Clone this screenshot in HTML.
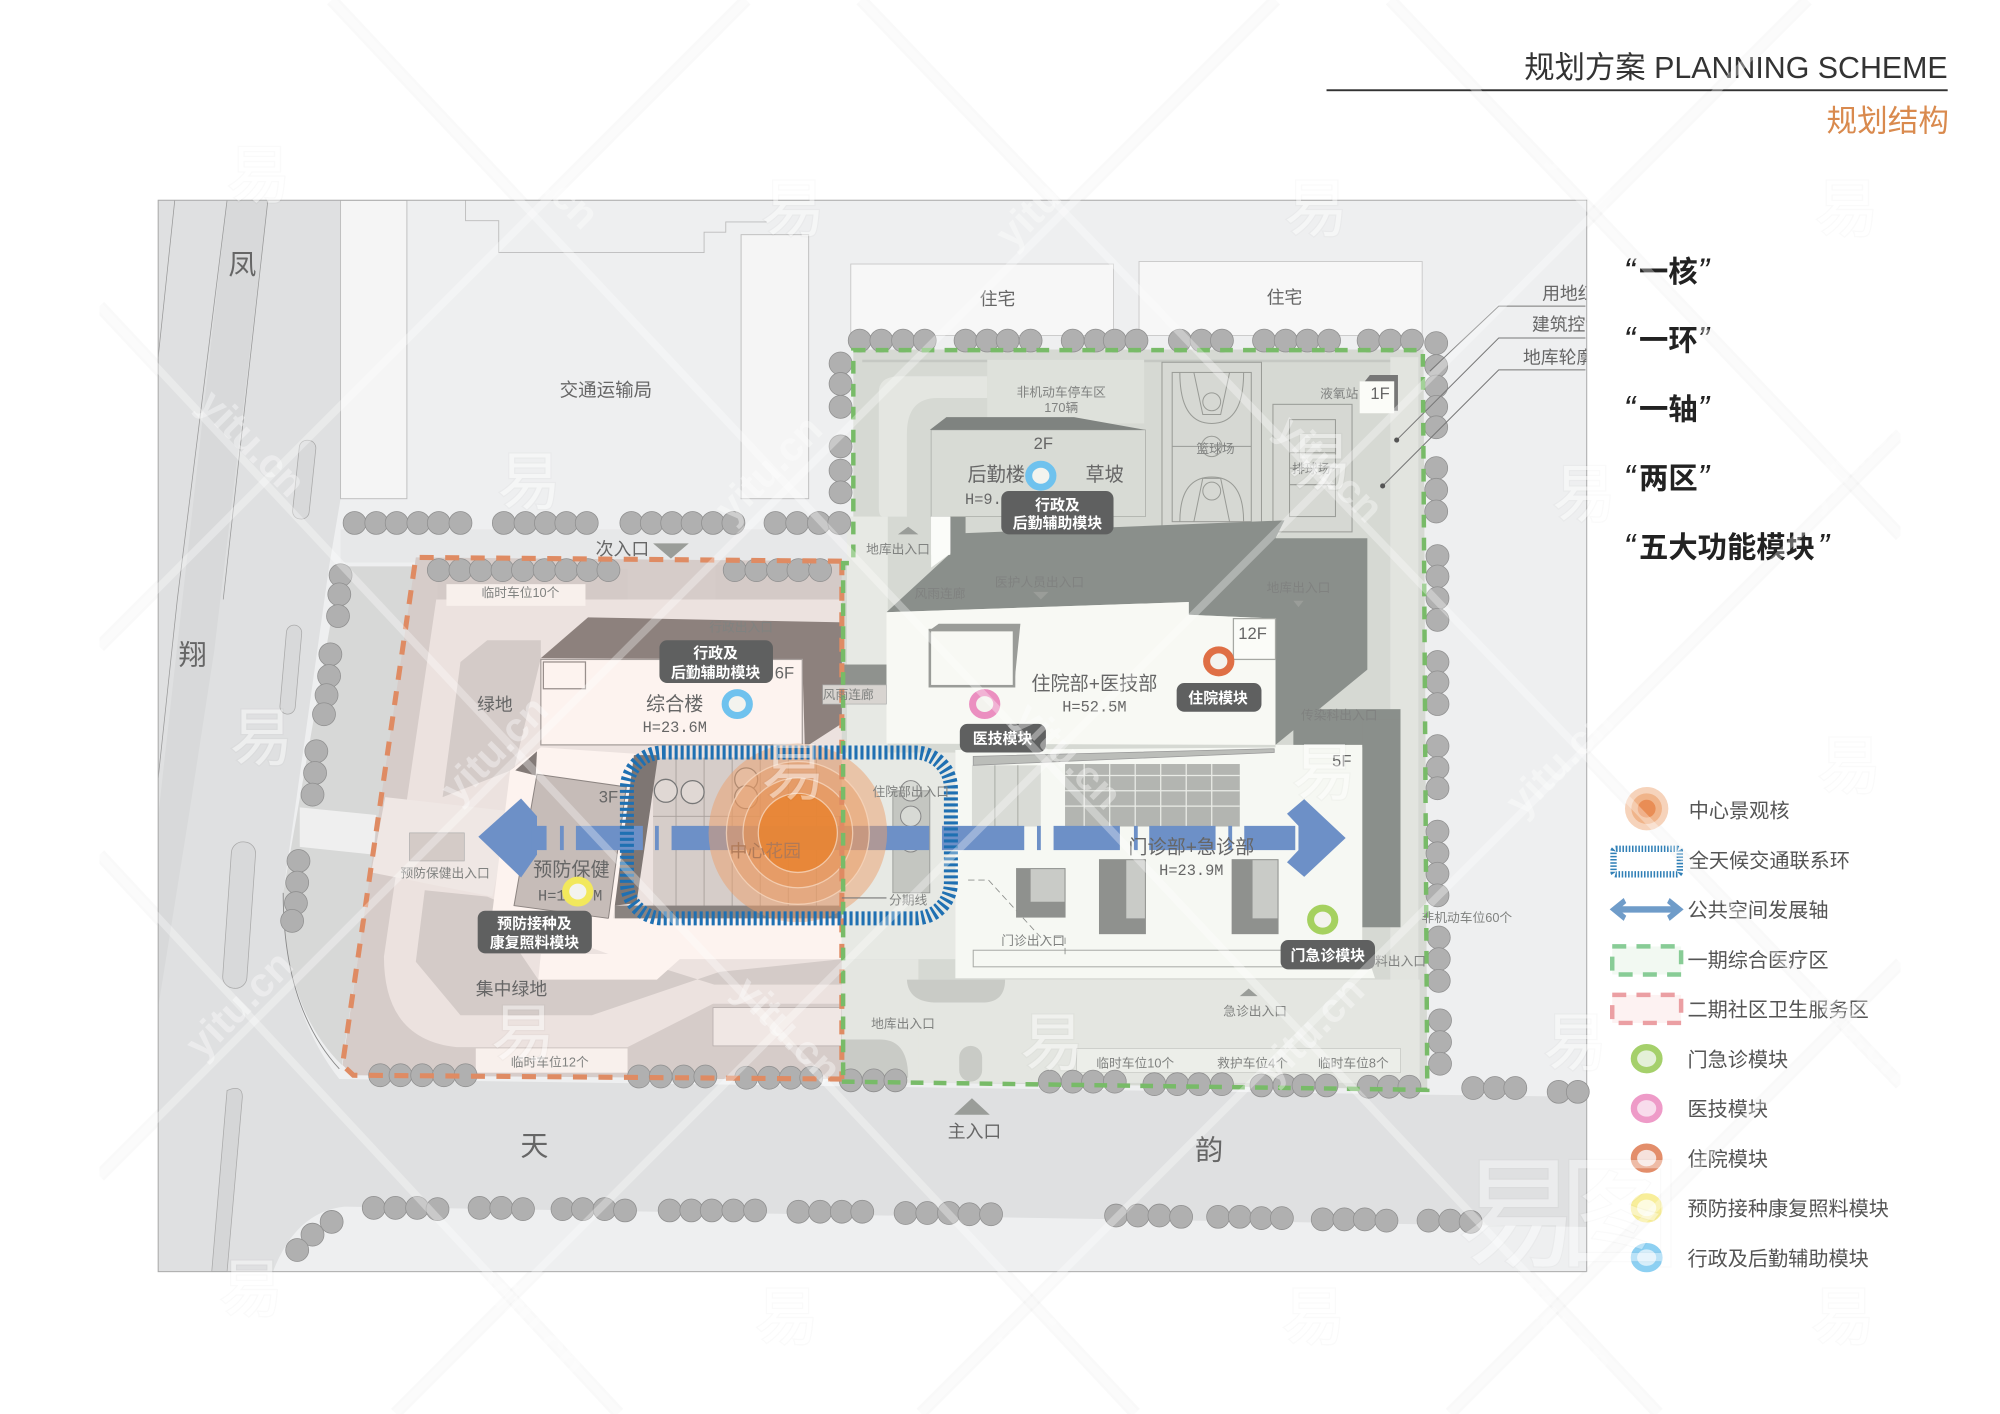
<!DOCTYPE html>
<html><head><meta charset="utf-8"><title>规划结构</title>
<style>
html,body{margin:0;padding:0;background:#fff;width:2000px;height:1414px;overflow:hidden}
svg{display:block}
text{font-family:"Liberation Sans","Noto Sans CJK SC",sans-serif;fill:#666}
.s{font-size:10px;fill:#808280;text-anchor:middle}
.m{font-size:15px;text-anchor:middle}
.h{font-size:12px;text-anchor:middle;font-family:"Liberation Mono","Noto Sans CJK SC",monospace}
.f{font-size:13px;text-anchor:middle}
.l{font-size:11.7px;font-weight:bold;fill:#fff;text-anchor:middle}
.g{font-size:15.8px;fill:#555}
.b{font-size:23px;font-weight:bold;fill:#222}
.q{font-style:italic;font-weight:normal;font-size:27px}
.w{font-size:50px;fill:#fff;text-anchor:middle;opacity:.45;stroke:#000;stroke-opacity:.05;stroke-width:2;paint-order:stroke}
.y{font-size:32px;font-weight:bold;fill:#fff;text-anchor:middle;opacity:.38}
</style></head><body>
<svg width="2000" height="1414" viewBox="0 0 1568 1108.6" xmlns="http://www.w3.org/2000/svg">
<defs><clipPath id="site"><rect x="124" y="157" width="1120" height="840"/></clipPath>
<clipPath id="wm"><rect x="78" y="0" width="1412" height="1109"/></clipPath></defs>
<rect width="1568" height="1109" fill="#fff"/>

<!-- faint watermark halo on white -->
<g clip-path="url(#wm)" stroke="#000" stroke-opacity=".025" stroke-width="10" fill="none">
<path d="M260 0L1300 1108M675 0L1490 850M1090 0L1490 420M78 240L890 1108M78 670L485 1108"/>
<path d="M585 0L78 507M1000 0L78 922M1417 0L310 1108M1490 340L722 1108M1490 755L1137 1108"/>
</g>

<!-- site base -->
<g clip-path="url(#site)">
<rect x="124" y="157" width="1120" height="840" fill="#eeeff0"/>
<path d="M124 157H267V391L258 444L222 700Q222 790 266 846L1244 860V962L270 946Q232 950 214 997H124Z" fill="#dfe0e1"/>
<rect x="267" y="415" width="400" height="26" fill="#e7e8e9"/>
<path d="M178 157H210L168 510L148 640L124 790V640Z" fill="#d8d9da"/>
<path d="M137 157L124 280M178 157L139 470L124 610M210 157L175 470" fill="none" stroke="#999" stroke-width=".6"/>
<rect x="232" y="345" width="13" height="62" rx="6" fill="#d8d9da" stroke="#aaa" stroke-width=".6" transform="rotate(6 238 376)"/>
<rect x="222" y="490" width="12" height="70" rx="6" fill="#d8d9da" stroke="#aaa" stroke-width=".6" transform="rotate(5 228 525)"/>
<rect x="178" y="660" width="19" height="115" rx="9" fill="#d8d9da" stroke="#aaa" stroke-width=".6" transform="rotate(4 188 717)"/>
<path d="M178 855Q190 850 190 860L178 997H166Z" fill="#d5d6d7" stroke="#aaa" stroke-width=".6"/>
<path d="M267 444H327L268 835Q222 790 222 700Z" fill="#d7d8d7"/>
<path d="M222 700Q222 790 266 838" fill="none" stroke="#888" stroke-width=".7"/>
<rect x="267" y="157" width="52" height="234" fill="#f5f5f5" stroke="#bbb" stroke-width=".7"/>
<rect x="581" y="184" width="53" height="207" fill="#f5f5f5" stroke="#bbb" stroke-width=".7"/>
<path d="M365 157V173H391V198H552V182H569V174H601" fill="none" stroke="#bbb" stroke-width=".7"/>
<rect x="667" y="207" width="206" height="56" fill="#f7f7f7" stroke="#c8c8c8" stroke-width=".7"/>
<rect x="893" y="205" width="222" height="58" fill="#f7f7f7" stroke="#c8c8c8" stroke-width=".7"/>
<text x="1209" y="235" style="font-size:14px">用地红线</text>
<text x="1201" y="259" style="font-size:14px">建筑控制线</text>
<text x="1194" y="285" style="font-size:14px">地库轮廓线</text>
</g>
<rect x="124" y="157" width="1120" height="840" fill="none" stroke="#aaa" stroke-width=".8"/>

<!-- phase 2 base -->
<path d="M326 437L660 440V846L277 843L268.500 835Z" fill="#d6ccc9"/>
<path d="M342 470H660V821H358Q301 815 301 750Z" fill="#ece2df"/>
<path d="M361 519L382 502H424V516L403 603L347 625ZM333 698L326 754L361 796H464L564 762L660 752V772H560L519 759L422 768L403 740V712L382 703Z" fill="#d4cbc8"/>
<path d="M492 821L559 787H660V846H492Z" fill="#d6ccc9"/><rect x="559" y="790" width="101" height="30" fill="#f0e7e4" stroke="#b5acaa" stroke-width=".6"/>
<path d="M343 446H492V470H343ZM561 443H660V470H561Z" fill="#d4cac7"/>
<rect x="350" y="458" width="109" height="17" fill="#f8f0ec"/><rect x="373" y="822" width="119" height="19" fill="#f8f0ec"/>
<path d="M235 633L295 639L293 670L235 664Z" fill="#efefef"/>
<path d="M302 625L400 636L386 703L291 684Z" fill="#efe7e4"/>
<rect x="321" y="653" width="43" height="22" fill="#d4cbc7" stroke="#aaa" stroke-width=".5"/>
<path d="M424 516L461 484L662 488V566L631 586L629 517Z" fill="#8d817d"/>
<rect x="424" y="517" width="205" height="67" fill="#fdf3ef" stroke="#a79f9c" stroke-width="1"/>
<rect x="426" y="519" width="33" height="21" fill="#fdf3ef" stroke="#998f8c" stroke-width="1"/>
<path d="M400 604L424 586L498 591L477 748L386 715Z" fill="#fdf3ef"/>
<path d="M421 607L491 617L477 720L403 710Z" fill="#c6bcb8" stroke="#8d8582" stroke-width=".8"/>
<path d="M404 604L421 589L420 608Z" fill="#837a77"/>
<path d="M477 720H660V752H533L515 768H422L424 748H477Z" fill="#fdf3ef"/>
<rect x="512" y="594" width="148" height="118" fill="#d6cdc9"/>
<path d="M530 594V712M552 594V712M574 594V712M596 594V712M618 594V712M640 594V712M512 640H660" fill="none" stroke="#a8a09c" stroke-width=".7"/>
<path d="M497 592H516L499 708L482 710Z" fill="#7e7673"/>
<rect x="482" y="710" width="178" height="10" fill="#8a8380"/>
<g fill="#e0d8d4" stroke="#777" stroke-width="1"><circle cx="522" cy="620" r="9"/><circle cx="543" cy="621" r="9"/><circle cx="585" cy="611" r="9"/><circle cx="585" cy="625" r="9"/></g>

<!-- phase 1 base -->
<path d="M669 274H1116L1119 854L660 848V442H669Z" fill="#d6d9d3"/>
<rect x="676" y="282" width="435" height="2" fill="#c5c8c3"/>
<path d="M689 309Q688 295 706 295H774V312H735Q711 312 711 340V405H692Q689 405 689 398Z" fill="#e4e6e1"/>
<rect x="1090" y="280" width="22" height="490" fill="#e2e4df"/>
<rect x="774" y="282" width="123" height="50" fill="#dee1db"/>
<rect x="664" y="405" width="32" height="185" fill="#e7e9e4"/>
<rect x="660" y="590" width="89" height="162" fill="#e7e9e4"/>
<rect x="711" y="768" width="402" height="81" fill="#e4e6e1"/>
<rect x="660" y="752" width="60" height="95" fill="#e4e6e1"/>
<rect x="844" y="822" width="254" height="19" fill="#eceee9" stroke="#c0c2bd" stroke-width=".5"/>
<!-- courts -->
<g fill="none" stroke="#999b96" stroke-width=".8">
<rect x="911" y="284" width="78" height="131" fill="#d6d8d3"/><rect x="919" y="292" width="62" height="117"/>
<path d="M919 350H981M936 292L943 325H957L964 292M936 409L943 375H957L964 409"/><circle cx="950" cy="350" r="8"/><circle cx="950" cy="315" r="7"/><circle cx="950" cy="385" r="7"/>
<path d="M925 292Q925 332 950 332T975 292M925 409Q925 374 950 374T975 409"/>
<rect x="998" y="317" width="62" height="100" fill="#d6d8d3"/><rect x="1011" y="329" width="36" height="76"/><path d="M1011 367H1047M1011 355H1047M1011 380H1047"/></g>
<!-- dark shadows -->
<path d="M695 480L745 434V405H757V418L1007 408L1000 422H1072V525L1000 584V485L932 482V472Z" fill="#8a8f8b"/>
<rect x="1014" y="556" width="84" height="30" fill="#8a8f8b"/>
<rect x="1068" y="564" width="30" height="163" fill="#8a8f8b"/>
<path d="M730 337H898V405H730Z" fill="#d8dbd5" stroke="#a9aca7" stroke-width=".6"/>
<path d="M729 337L742 327H842L898 337Z" fill="#7f8380"/>
<path d="M730 405V445L745 434V405Z" fill="#fbfcf9"/>
<rect x="730" y="405" width="15" height="30" fill="#fbfcf9"/>
<!-- inpatient building -->
<path d="M695 480L932 472V482L1000 485V584L695 583Z" fill="#f8f9f4"/>
<path d="M729 494L736 489H800L795 538V494H729Z" fill="#9a9c98"/>
<rect x="729" y="494" width="66" height="44" fill="#f8f9f4" stroke="#9a9c98" stroke-width="2"/>
<rect x="967" y="485" width="33" height="32" fill="#fbfcf8" stroke="#a6a8a3" stroke-width="1"/>
<path d="M1070 299L1074 294H1096V322H1093V299Z" fill="#777"/><rect x="1066" y="299" width="27" height="25" fill="#fbfcf8"/>
<!-- corridor -->
<rect x="660" y="521" width="35" height="16" fill="#8f928e"/><rect x="645" y="537" width="50" height="15" fill="#d8d4d0" stroke="#aaa" stroke-width=".5"/>
<!-- outpatient -->
<path d="M749 588L1000 586V584H1068V737L1078 767H749Z" fill="#f6f8f3"/>
<rect x="762" y="600" width="54" height="48" fill="#d9dbd6"/>
<path d="M780 600V648M798 600V648" stroke="#a9aba6" stroke-width=".8"/>
<rect x="835" y="599" width="137" height="49" fill="#b3b5b1"/>
<path d="M835 608H972M835 620H972M835 632H972M850 599V648M870 599V648M890 599V648M910 599V648M930 599V648M950 599V648" stroke="#e9ebe6" stroke-width="1" fill="none"/>
<path d="M763 593L999 587V590L763 600Z" fill="#bbbdb9" stroke="#999" stroke-width=".6"/>
<rect x="797" y="681" width="38" height="38" fill="#c9cbc7" stroke="#8f918e" stroke-width=".8"/><path d="M797 681H808V707H835V719H797Z" fill="#8f918e"/>
<rect x="862" y="674" width="36" height="58" fill="#c9cbc7" stroke="#8f918e" stroke-width=".8"/><path d="M862 674H883V720H898V732H862Z" fill="#8f918e"/>
<rect x="966" y="674" width="36" height="58" fill="#c9cbc7" stroke="#8f918e" stroke-width=".8"/><path d="M966 674H982V720H1002V732H966Z" fill="#8f918e"/>
<rect x="763" y="745" width="283" height="13" fill="none" stroke="#a9aba6" stroke-width=".8"/>
<path d="M759 690H775L816 735H835V750" fill="none" stroke="#8f918e" stroke-width=".7" stroke-dasharray="5 3"/>
<rect x="700" y="620" width="29" height="80" fill="#c4c6c1" stroke="#8f918e" stroke-width=".6"/>
<g fill="#d8dad5" stroke="#888" stroke-width=".8"><circle cx="714" cy="620" r="8"/><circle cx="714" cy="640" r="8"/><circle cx="714" cy="660" r="8"/></g>
<path d="M711 768Q712 786 735 786H770Q788 786 788 768Z" fill="#c9cbc6"/>
<path d="M660 815H690Q712 815 712 845H660Z" fill="#c9cbc6"/><rect x="752" y="820" width="18" height="28" rx="9" fill="#c9cbc6"/>

<!-- trees -->
<g fill="#b0b0b0" stroke="#909090" stroke-width=".6">
<circle cx="674" cy="267" r="9"/><circle cx="691" cy="267" r="9"/><circle cx="708" cy="267" r="9"/><circle cx="725" cy="267" r="9"/>
<circle cx="757" cy="267" r="9"/><circle cx="774" cy="267" r="9"/><circle cx="790" cy="267" r="9"/><circle cx="808" cy="267" r="9"/>
<circle cx="841" cy="267" r="9"/><circle cx="859" cy="267" r="9"/><circle cx="874" cy="267" r="9"/><circle cx="891" cy="267" r="9"/>
<circle cx="925" cy="267" r="9"/><circle cx="942" cy="267" r="9"/><circle cx="958" cy="267" r="9"/>
<circle cx="991" cy="267" r="9"/><circle cx="1008" cy="267" r="9"/><circle cx="1025" cy="267" r="9"/><circle cx="1042" cy="267" r="9"/>
<circle cx="1073" cy="267" r="9"/><circle cx="1090" cy="267" r="9"/><circle cx="1107" cy="267" r="9"/>
<circle cx="1126" cy="269" r="9"/><circle cx="1126" cy="287" r="9"/><circle cx="1126" cy="303" r="9"/><circle cx="1126" cy="319" r="9"/><circle cx="1126" cy="335" r="9"/>
<circle cx="1126" cy="367" r="9"/><circle cx="1126" cy="384" r="9"/><circle cx="1126" cy="401" r="9"/>
<circle cx="1127" cy="436" r="9"/><circle cx="1127" cy="452" r="9"/><circle cx="1127" cy="469" r="9"/><circle cx="1127" cy="486" r="9"/>
<circle cx="1127" cy="519" r="9"/><circle cx="1127" cy="535" r="9"/><circle cx="1127" cy="552" r="9"/>
<circle cx="1127" cy="585" r="9"/><circle cx="1127" cy="602" r="9"/><circle cx="1127" cy="618" r="9"/>
<circle cx="1127" cy="652" r="9"/><circle cx="1127" cy="669" r="9"/><circle cx="1127" cy="685" r="9"/><circle cx="1127" cy="702" r="9"/>
<circle cx="1128" cy="735" r="9"/><circle cx="1128" cy="752" r="9"/><circle cx="1128" cy="769" r="9"/>
<circle cx="1129" cy="800" r="9"/><circle cx="1129" cy="817" r="9"/><circle cx="1129" cy="834" r="9"/>
<circle cx="659" cy="285" r="9"/><circle cx="659" cy="301" r="9"/><circle cx="659" cy="319" r="9"/>
<circle cx="659" cy="350" r="9"/><circle cx="659" cy="369" r="9"/><circle cx="659" cy="386" r="9"/>
<circle cx="278" cy="410" r="9"/><circle cx="295" cy="410" r="9"/><circle cx="311" cy="410" r="9"/><circle cx="328" cy="410" r="9"/><circle cx="344" cy="410" r="9"/><circle cx="361" cy="410" r="9"/>
<circle cx="395" cy="410" r="9"/><circle cx="412" cy="410" r="9"/><circle cx="428" cy="410" r="9"/><circle cx="444" cy="410" r="9"/><circle cx="460" cy="410" r="9"/>
<circle cx="495" cy="410" r="9"/><circle cx="511" cy="410" r="9"/><circle cx="527" cy="410" r="9"/><circle cx="543" cy="410" r="9"/><circle cx="559" cy="410" r="9"/><circle cx="575" cy="410" r="9"/>
<circle cx="608" cy="410" r="9"/><circle cx="625" cy="410" r="9"/><circle cx="642" cy="410" r="9"/><circle cx="658" cy="410" r="9"/>
<circle cx="344" cy="447" r="9"/><circle cx="361" cy="447" r="9"/><circle cx="377" cy="447" r="9"/><circle cx="394" cy="447" r="9"/><circle cx="410" cy="447" r="9"/><circle cx="427" cy="447" r="9"/><circle cx="444" cy="447" r="9"/><circle cx="461" cy="447" r="9"/><circle cx="477" cy="447" r="9"/>
<circle cx="576" cy="447" r="9"/><circle cx="593" cy="447" r="9"/><circle cx="610" cy="447" r="9"/><circle cx="626" cy="447" r="9"/><circle cx="643" cy="447" r="9"/>
<circle cx="267" cy="451" r="9"/><circle cx="266" cy="466" r="9"/><circle cx="265" cy="483" r="9"/>
<circle cx="259" cy="513" r="9"/><circle cx="258" cy="530" r="9"/><circle cx="256" cy="545" r="9"/><circle cx="254" cy="560" r="9"/>
<circle cx="248" cy="589" r="9"/><circle cx="247" cy="606" r="9"/><circle cx="245" cy="623" r="9"/>
<circle cx="234" cy="675" r="9"/><circle cx="233" cy="692" r="9"/><circle cx="232" cy="708" r="9"/><circle cx="229" cy="722" r="9"/>
<circle cx="298" cy="843" r="9"/><circle cx="314" cy="843" r="9"/><circle cx="331" cy="843" r="9"/><circle cx="348" cy="843" r="9"/><circle cx="365" cy="843" r="9"/>
<circle cx="501" cy="844" r="9"/><circle cx="518" cy="844" r="9"/><circle cx="536" cy="844" r="9"/><circle cx="553" cy="844" r="9"/>
<circle cx="585" cy="845" r="9"/><circle cx="603" cy="845" r="9"/><circle cx="620" cy="845" r="9"/><circle cx="636" cy="845" r="9"/>
<circle cx="667" cy="847" r="9"/><circle cx="685" cy="847" r="9"/><circle cx="702" cy="847" r="9"/>
<circle cx="823" cy="848" r="9"/><circle cx="841" cy="848" r="9"/><circle cx="857" cy="848" r="9"/><circle cx="874" cy="848" r="9"/>
<circle cx="905" cy="850" r="9"/><circle cx="923" cy="850" r="9"/><circle cx="940" cy="850" r="9"/><circle cx="958" cy="850" r="9"/>
<circle cx="989" cy="851" r="9"/><circle cx="1007" cy="851" r="9"/><circle cx="1022" cy="851" r="9"/><circle cx="1040" cy="851" r="9"/>
<circle cx="1073" cy="852" r="9"/><circle cx="1089" cy="852" r="9"/><circle cx="1105" cy="852" r="9"/>
<circle cx="1155" cy="853" r="9"/><circle cx="1172" cy="853" r="9"/><circle cx="1188" cy="853" r="9"/><circle cx="1222" cy="856" r="9"/><circle cx="1237" cy="856" r="9"/>
<circle cx="293" cy="947" r="9"/><circle cx="310" cy="947" r="9"/><circle cx="327" cy="947" r="9"/><circle cx="343" cy="948" r="9"/>
<circle cx="376" cy="947" r="9"/><circle cx="393" cy="947" r="9"/><circle cx="410" cy="948" r="9"/>
<circle cx="441" cy="948" r="9"/><circle cx="457" cy="948" r="9"/><circle cx="474" cy="948" r="9"/><circle cx="490" cy="949" r="9"/>
<circle cx="525" cy="949" r="9"/><circle cx="542" cy="949" r="9"/><circle cx="558" cy="949" r="9"/><circle cx="575" cy="949" r="9"/><circle cx="592" cy="949" r="9"/>
<circle cx="626" cy="950" r="9"/><circle cx="643" cy="950" r="9"/><circle cx="660" cy="950" r="9"/><circle cx="676" cy="950" r="9"/>
<circle cx="710" cy="951" r="9"/><circle cx="727" cy="951" r="9"/><circle cx="744" cy="951" r="9"/><circle cx="760" cy="952" r="9"/><circle cx="777" cy="952" r="9"/>
<circle cx="875" cy="953" r="9"/><circle cx="892" cy="953" r="9"/><circle cx="909" cy="953" r="9"/><circle cx="926" cy="954" r="9"/>
<circle cx="955" cy="954" r="9"/><circle cx="972" cy="954" r="9"/><circle cx="989" cy="955" r="9"/><circle cx="1005" cy="955" r="9"/>
<circle cx="1037" cy="956" r="9"/><circle cx="1054" cy="956" r="9"/><circle cx="1070" cy="956" r="9"/><circle cx="1087" cy="957" r="9"/>
<circle cx="1120" cy="957" r="9"/><circle cx="1137" cy="957" r="9"/><circle cx="1153" cy="958" r="9"/>
<circle cx="260" cy="958" r="9"/><circle cx="245" cy="968" r="9"/><circle cx="233" cy="980" r="9"/>
</g>

<!-- leader lines (above site fill and trees) -->
<path d="M1243 240H1175L1121 291M1243 265H1175L1095 345M1243 290H1175L1084 381" fill="none" stroke="#777" stroke-width=".8"/>
<circle cx="1095" cy="345" r="2" fill="#555"/><circle cx="1084" cy="381" r="2" fill="#555"/>

<!-- axis -->
<g fill="#6d90c7">
<path d="M375 656L408.500 626L421 640V670L408.500 688Z"/>
<rect x="417" y="647.500" width="11.500" height="19"/><rect x="439" y="647.500" width="3" height="19"/><rect x="451.500" y="647.500" width="52.500" height="19"/><rect x="513.500" y="647.500" width="3" height="19"/><rect x="526.500" y="647.500" width="202" height="19"/><rect x="738.500" y="647.500" width="64.500" height="19"/><rect x="813" y="647.500" width="3" height="19"/><rect x="826" y="647.500" width="52" height="19"/><rect x="889" y="647.500" width="3" height="19"/><rect x="901" y="647.500" width="52" height="19"/><rect x="963" y="647.500" width="3" height="19"/><rect x="975.500" y="647.500" width="40" height="19"/>
<path d="M1055 657L1022.500 626.500L1009 638L1018 647.500V666.500L1009 676L1022.500 687.500Z"/>
</g>
<!-- core -->
<circle cx="625.500" cy="653" r="70" fill="#eba06c" fill-opacity=".5"/>
<circle cx="625.500" cy="653" r="56" fill="#e9985f" fill-opacity=".42" stroke="#f6d6bd" stroke-opacity=".8" stroke-width="1"/>
<circle cx="625.500" cy="653" r="43" fill="#e88f4e" fill-opacity=".5" stroke="#f6d6bd" stroke-opacity=".8" stroke-width="1"/>
<circle cx="625.500" cy="653" r="31" fill="#e8822f" fill-opacity=".82" stroke="#f6d6bd" stroke-opacity=".8" stroke-width="1"/>

<!-- phase boundaries -->
<path d="M660 440L326 437L268.500 835L277 843L660 846" fill="none" stroke="#df8b63" stroke-width="4" stroke-dasharray="11 9"/>
<path d="M660 440V846" fill="none" stroke="#df8b63" stroke-width="4" stroke-dasharray="11 9"/>
<path d="M660 848L1119 854.500L1115.500 274.500H669V441.500H661V848" fill="none" stroke="#78bb68" stroke-width="3.500" stroke-dasharray="10 8"/>

<!-- ring -->
<rect x="491.500" y="590" width="254" height="130" rx="28" fill="none" stroke="#1f70b2" stroke-width="11" stroke-dasharray="2.400 2.300"/>

<!-- labels -->
<g fill="#9a9d99"><path d="M512 426H540L526 438Z"/><path d="M762 861L776 874H748Z"/><path d="M704 419L712 413L720 419Z"/><path d="M810 464L816 470L822 464Z"/><path d="M1014 471H1022L1018 476Z"/><path d="M972 781H986L979 775Z"/></g>
<text x="475" y="311" class="m" style="font-size:14.500px">交通运输局</text>
<text x="782" y="239" class="m" style="font-size:14px">住宅</text><text x="1007" y="238" class="m" style="font-size:14px">住宅</text>
<text x="190" y="215" class="m" style="font-size:22px">凤</text><text x="151" y="521" class="m" style="font-size:22px">翔</text><text x="419" y="906" class="m" style="font-size:22px">天</text><text x="948" y="909" class="m" style="font-size:22px">韵</text>
<text x="488" y="435" class="m" style="font-size:14px">次入口</text><text x="764" y="892" class="m" style="font-size:14px">主入口</text>
<text x="832" y="311" class="s">非机动车停车区</text><text x="832" y="323" class="s">170辆</text>
<text x="818" y="352" class="f">2F</text><text x="781" y="377" class="m">后勤楼</text><text x="866" y="377" class="m">草坡</text><text x="771" y="395" class="h">H=9.</text>
<text x="953" y="355" class="s">篮球场</text><text x="1028" y="371" class="s">排球场</text><text x="1050" y="312" class="s">液氧站</text><text x="1082" y="313" class="f">1F</text>
<text x="704" y="434" class="s">地库出入口</text><text x="815" y="460" class="s">医护人员出入口</text><text x="1018" y="464" class="s">地库出入口</text><text x="737" y="469" class="s">风雨连廊</text>
<text x="581" y="495" class="s">行政出入口</text><text x="408" y="468" class="s">临时车位10个</text>
<text x="982" y="501" class="f">12F</text><text x="858" y="541" class="m">住院部+医技部</text><text x="858" y="558" class="h">H=52.5M</text>
<text x="665" y="548" class="s">风雨连廊</text><text x="1050" y="564" class="s">传染科出入口</text>
<text x="615" y="532" class="f">6F</text><text x="529" y="557" class="m">综合楼</text><text x="529" y="574" class="h">H=23.6M</text>
<text x="388" y="557" class="m" style="font-size:14px">绿地</text><text x="1052" y="601" class="f">5F</text><text x="477" y="629" class="f">3F</text>
<text x="714" y="624" class="s">住院部出入口</text><text x="448" y="687" class="m">预防保健</text><text x="447" y="706" class="h">H=17.9M</text>
<text x="349" y="688" class="s">预防保健出入口</text><text x="600" y="672" class="s" style="font-size:14px;fill:#b07a58">中心花园</text>
<text x="934" y="669" class="m">门诊部+急诊部</text><text x="934" y="686" class="h">H=23.9M</text>
<text x="712" y="709" class="s">分期线</text><path d="M660 704H695" stroke="#777" stroke-width=".8"/>
<text x="810" y="741" class="s">门诊出入口</text><text x="1150" y="723" class="s">非机动车位60个</text><text x="1098" y="757" class="s">料出入口</text>
<text x="984" y="796" class="s">急诊出入口</text><text x="708" y="806" class="s">地库出入口</text>
<text x="401" y="780" class="m" style="font-size:14px">集中绿地</text>
<text x="431" y="836" class="s">临时车位12个</text><text x="890" y="837" class="s">临时车位10个</text><text x="982" y="837" class="s">救护车位4个</text><text x="1061" y="837" class="s">临时车位8个</text>

<!-- module dots -->
<g fill="#f3f3ee" stroke-width="5.500">
<ellipse cx="816" cy="373" rx="9.500" ry="9" stroke="#6fc2ee"/><ellipse cx="578" cy="552" rx="9.500" ry="9" stroke="#6fc2ee"/>
<ellipse cx="772" cy="552" rx="9.500" ry="9" stroke="#eb8fc0"/><ellipse cx="955.500" cy="518.500" rx="9.500" ry="9" stroke="#df6f45"/>
<ellipse cx="1037" cy="721" rx="9.500" ry="9" stroke="#a5d15f"/><ellipse cx="453" cy="699" rx="9.500" ry="9" stroke="#f2e85c"/>
</g>
<!-- module tags -->
<g fill="#5f6060">
<rect x="785" y="385" width="88" height="34" rx="6"/><rect x="517" y="502" width="89" height="33.500" rx="6"/>
<rect x="922.500" y="535.500" width="66.500" height="22.500" rx="6"/><rect x="752.500" y="567.500" width="67.500" height="22.500" rx="6"/>
<rect x="1004" y="737" width="74" height="23" rx="6"/><rect x="374.500" y="714" width="89.500" height="33.500" rx="6"/>
</g>
<text x="829" y="400" class="l">行政及</text><text x="829" y="414" class="l">后勤辅助模块</text>
<text x="561" y="516" class="l">行政及</text><text x="561" y="531" class="l">后勤辅助模块</text>
<text x="955" y="551" class="l">住院模块</text><text x="786" y="583" class="l">医技模块</text><text x="1041" y="753" class="l">门急诊模块</text>
<text x="419" y="728" class="l">预防接种及</text><text x="419" y="743" class="l">康复照料模块</text>

<!-- title -->
<text x="1195" y="61" style="font-size:24px;fill:#333" textLength="332" lengthAdjust="spacingAndGlyphs">规划方案 PLANNING SCHEME</text>
<rect x="1040" y="70" width="487" height="1.500" fill="#333"/>
<text x="1432" y="103" style="font-size:24px;fill:#d98a4e">规划结构</text>
<text x="1273" y="221" class="b"><tspan class="q">“</tspan><tspan x="1285">一核</tspan><tspan class="q" x="1331">”</tspan></text>
<text x="1273" y="275" class="b"><tspan class="q">“</tspan><tspan x="1285">一环</tspan><tspan class="q" x="1331">”</tspan></text>
<text x="1273" y="329" class="b"><tspan class="q">“</tspan><tspan x="1285">一轴</tspan><tspan class="q" x="1331">”</tspan></text>
<text x="1273" y="383" class="b"><tspan class="q">“</tspan><tspan x="1285">两区</tspan><tspan class="q" x="1331">”</tspan></text>
<text x="1273" y="437" class="b"><tspan class="q">“</tspan><tspan x="1285">五大功能模块</tspan><tspan class="q" x="1425">”</tspan></text>

<!-- legend -->
<circle cx="1291" cy="634" r="17" fill="#f6d3bb"/><circle cx="1291" cy="634" r="12" fill="#f0b48a"/><circle cx="1291" cy="634" r="7" fill="#e98d55"/>
<rect x="1265" y="665.500" width="52" height="20" rx="2" fill="none" stroke="#2f7fb6" stroke-width="5" stroke-dasharray="1.200 1.300"/>
<path d="M1262 713L1273 704L1275 708L1272 710.500H1310L1307 708L1309 704L1320 713L1309 722L1307 718L1310 715.500H1272L1275 718L1273 722Z" fill="#6f9cc9"/>
<rect x="1264" y="742" width="54" height="22" fill="#f2f9f2" stroke="#88cc96" stroke-width="3.500" stroke-dasharray="11 8"/>
<rect x="1264" y="780" width="54" height="22" fill="#fdf2f2" stroke="#eb9fa3" stroke-width="3.500" stroke-dasharray="11 8"/>
<g stroke-width="5">
<ellipse cx="1291" cy="830" rx="10" ry="9" fill="#e4f0d8" stroke="#a5d06b"/>
<ellipse cx="1291" cy="869" rx="10" ry="9" fill="#f8dcec" stroke="#ee9bc8"/>
<ellipse cx="1291" cy="908" rx="10" ry="9" fill="#f6e2dc" stroke="#e38e6b"/>
<ellipse cx="1291" cy="947" rx="10" ry="9" fill="#fdfbe0" stroke="#f8ee9a"/>
<ellipse cx="1291" cy="986" rx="10" ry="9" fill="#d7eefa" stroke="#8dd0f2"/>
</g>
<text x="1324" y="641" class="g">中心景观核</text><text x="1324" y="680" class="g">全天候交通联系环</text><text x="1323" y="719" class="g">公共空间发展轴</text>
<text x="1323" y="758" class="g">一期综合医疗区</text><text x="1323" y="797" class="g">二期社区卫生服务区</text>
<text x="1323" y="836" class="g">门急诊模块</text><text x="1323" y="875" class="g">医技模块</text><text x="1323" y="914" class="g">住院模块</text>
<text x="1323" y="953" class="g">预防接种康复照料模块</text><text x="1323" y="992" class="g">行政及后勤辅助模块</text>

<!-- watermark -->
<g clip-path="url(#wm)">
<g stroke="#fff" stroke-width="6" stroke-opacity=".32" fill="none">
<path d="M260 0L1300 1108M675 0L1490 850M1090 0L1490 420M78 240L890 1108M78 670L485 1108"/>
<path d="M585 0L78 507M1000 0L78 922M1417 0L310 1108M1490 340L722 1108M1490 755L1137 1108"/>
</g>
<text class="w" x="203" y="155">易</text><text class="w" x="622" y="181">易</text><text class="w" x="1032" y="181">易</text><text class="w" x="1448" y="181">易</text>
<text class="w" x="415" y="395">易</text><text class="w" x="1035" y="380">易</text><text class="w" x="1242" y="405">易</text>
<text class="w" x="205" y="596">易</text><text class="w" x="622" y="623">易</text><text class="w" x="1038" y="623">易</text><text class="w" x="1450" y="618">易</text>
<text class="w" x="410" y="828">易</text><text class="w" x="825" y="835">易</text><text class="w" x="1235" y="835">易</text>
<text class="w" x="197" y="1028">易</text><text class="w" x="617" y="1050">易</text><text class="w" x="1030" y="1050">易</text><text class="w" x="1445" y="1050">易</text>
<text class="w" x="1190" y="985" style="font-size:95px;opacity:.4">易</text><text class="w" x="1270" y="985" style="font-size:95px;opacity:.4">图</text>
<text class="y" transform="translate(420 145) rotate(45)">yitu.cn</text>
<text class="y" transform="translate(830 160) rotate(-45)">yitu.cn</text>
<text class="y" transform="translate(1250 160) rotate(45)">yitu.cn</text>
<text class="y" transform="translate(190 355) rotate(45)">yitu.cn</text>
<text class="y" transform="translate(610 375) rotate(-45)">yitu.cn</text>
<text class="y" transform="translate(1035 375) rotate(45)">yitu.cn</text>
<text class="y" transform="translate(1460 365) rotate(-45)">yitu.cn</text>
<text class="y" transform="translate(395 595) rotate(-45)">yitu.cn</text>
<text class="y" transform="translate(830 600) rotate(45)">yitu.cn</text>
<text class="y" transform="translate(1230 605) rotate(-45)">yitu.cn</text>
<text class="y" transform="translate(195 795) rotate(-45)">yitu.cn</text>
<text class="y" transform="translate(610 815) rotate(45)">yitu.cn</text>
<text class="y" transform="translate(1035 815) rotate(-45)">yitu.cn</text>
<text class="y" transform="translate(1450 815) rotate(45)">yitu.cn</text>
<text class="y" transform="translate(410 1045) rotate(45)">yitu.cn</text>
<text class="y" transform="translate(820 1045) rotate(-45)">yitu.cn</text>
<text class="y" transform="translate(1215 1045) rotate(45)">yitu.cn</text>
</g>
</svg>
</body></html>
